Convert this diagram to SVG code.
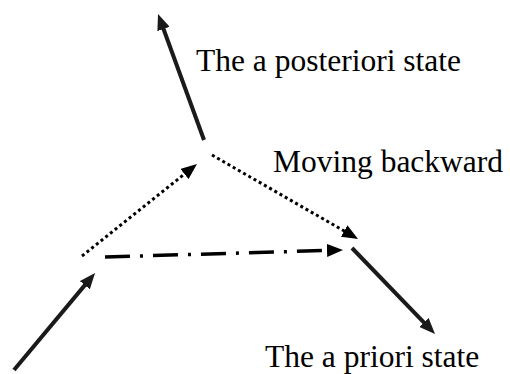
<svg xmlns="http://www.w3.org/2000/svg" width="510" height="374" viewBox="0 0 510 374">
<style>
.lbl{font-family:"Liberation Serif","Times New Roman",serif;font-size:31.5px;fill:#000}
.solid{stroke:#1a1a1a;stroke-width:4;fill:none}
.dot{stroke:#000;stroke-width:3;fill:none;stroke-dasharray:3 3}
.dashdot{stroke:#000;stroke-width:3.5;fill:none;stroke-dasharray:25 10 3 10}
</style>
<defs>
<marker id="big" markerUnits="userSpaceOnUse" markerWidth="16" markerHeight="13" refX="5" refY="6.5" orient="auto"><path d="M0,0 L16,6.5 L0,13 z" fill="#1a1a1a"/></marker>
<marker id="dotted" markerUnits="userSpaceOnUse" markerWidth="16" markerHeight="13" refX="5" refY="6.5" orient="auto"><path d="M0,0 L16,6.5 L0,13 z" fill="#000"/></marker>
</defs>
<g id="connectors">
<line class="solid" x1="204" y1="140" x2="161.8" y2="24.3" marker-end="url(#big)"/>
<line class="solid" x1="14" y1="370" x2="88" y2="281.4" marker-end="url(#big)"/>
<line class="solid" x1="352" y1="248" x2="427.4" y2="326.1" marker-end="url(#big)"/>
<line class="dot" x1="82" y1="256" x2="188.4" y2="170.9" marker-end="url(#dotted)"/>
<line class="dot" x1="212" y1="155" x2="348.5" y2="233.5" marker-end="url(#dotted)"/>
<line class="dashdot" x1="105" y1="257" x2="332" y2="250.3" marker-end="url(#dotted)"/>
</g>
<g id="posteriori"><text class="lbl" x="196" y="71">The a posteriori state</text></g>
<g id="moving"><text class="lbl" x="273" y="172">Moving backward</text></g>
<g id="priori"><text class="lbl" x="265" y="367">The a priori state</text></g>
</svg>
